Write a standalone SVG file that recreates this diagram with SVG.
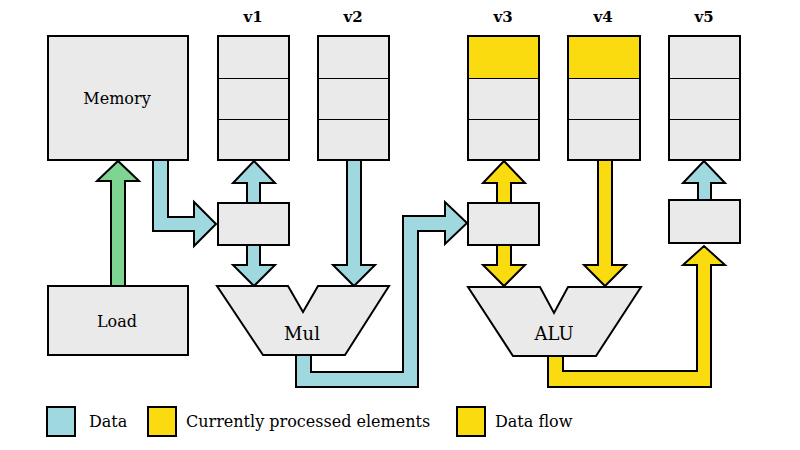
<svg xmlns="http://www.w3.org/2000/svg" width="800" height="450" viewBox="0 0 800 450">
<style>
.box{fill:#eaeaea;stroke:#000;stroke-width:2}
.div{stroke:#000;stroke-width:1}
.cur{fill:#fadb10}
.data{fill:#a0d8e0;stroke:#000;stroke-width:2;stroke-linejoin:miter}
.flow{fill:#fadb10;stroke:#000;stroke-width:2;stroke-linejoin:miter}
.load{fill:#7ed491;stroke:#000;stroke-width:2;stroke-linejoin:miter}
text{font-family:"DejaVu Serif","Liberation Serif",serif;fill:#000;text-anchor:middle;dominant-baseline:central}
.lbl{font-size:16px}
.big{font-size:18px}
.vl{font-size:15px;font-weight:bold}
.leg{font-size:16px;text-anchor:start}
</style>
<defs>
<g id="vec">
<rect class="box" x="0" y="0" width="71" height="124"/>
<line class="div" x1="0" y1="42.5" x2="71" y2="42.5"/>
<line class="div" x1="0" y1="83.5" x2="71" y2="83.5"/>
</g>
</defs>
<g id="connectors">
<polygon class="load" points="111,286 125,286 125,181 139,181 118,161 97,181 111,181"/>
<polygon class="data" points="153,160 168,160 168,217 194,217 194,202 216,224 194,246 194,231 153,231"/>
<polygon class="data" points="247,203 260,203 260,183 275,183 254,161 233,183 247,183"/>
<polygon class="data" points="247,245 260,245 260,265 275,265 254,286 233,265 247,265"/>
<polygon class="data" points="347,160 361,160 361,265 375,265 354,286 333,265 347,265"/>
<polygon class="data" points="296,355 296,387 418,387 418,231 445,231 445,244 467,223 445,202 445,216 403,216 403,372 311,372 311,355"/>
<polygon class="flow" points="497,203 511,203 511,183 525,183 504,161 483,183 497,183"/>
<polygon class="flow" points="497,245 511,245 511,265 525,265 504,286 483,265 497,265"/>
<polygon class="flow" points="598,160 612,160 612,265 626,265 605,286 584,265 598,265"/>
<polygon class="flow" points="548,356 548,387 711,387 711,265 725,265 704,246 683,265 697,265 697,371 563,371 563,356"/>
<polygon class="data" points="698,200 711,200 711,183 725,183 704,161 683,183 698,183"/>
</g>
<g id="memory">
<rect class="box" x="48" y="36" width="140" height="124"/>
<text class="lbl" x="117" y="98">Memory</text>
</g>
<g id="load">
<rect class="box" x="48" y="286" width="140" height="69"/>
<text class="lbl" x="117" y="321">Load</text>
</g>
<g id="v1">
<use href="#vec" x="218" y="36"/>
<text class="vl" x="253" y="17">v1</text>
</g>
<g id="v2">
<use href="#vec" x="318" y="36"/>
<text class="vl" x="353" y="17">v2</text>
</g>
<g id="v3">
<rect class="cur" x="468" y="36" width="71" height="42"/>
<rect x="468" y="78" width="71" height="82" fill="#eaeaea"/>
<rect x="468" y="36" width="71" height="124" fill="none" stroke="#000" stroke-width="2"/>
<line class="div" x1="468" y1="78.5" x2="539" y2="78.5"/>
<line class="div" x1="468" y1="119.5" x2="539" y2="119.5"/>
<text class="vl" x="503" y="17">v3</text>
</g>
<g id="v4">
<rect class="cur" x="568" y="36" width="72" height="42"/>
<rect x="568" y="78" width="72" height="82" fill="#eaeaea"/>
<rect x="568" y="36" width="72" height="124" fill="none" stroke="#000" stroke-width="2"/>
<line class="div" x1="568" y1="78.5" x2="640" y2="78.5"/>
<line class="div" x1="568" y1="119.5" x2="640" y2="119.5"/>
<text class="vl" x="603" y="17">v4</text>
</g>
<g id="v5">
<use href="#vec" x="669" y="36"/>
<text class="vl" x="704" y="17">v5</text>
</g>
<g id="reg1"><rect class="box" x="218" y="203" width="71" height="42"/></g>
<g id="reg3"><rect class="box" x="468" y="203" width="71" height="42"/></g>
<g id="reg5"><rect class="box" x="669" y="200" width="71" height="43"/></g>
<g id="mul">
<polygon class="box" points="217,286 288,286 303,312 318,286 389,286 345,355 263,355"/>
<text class="big" x="302" y="333">Mul</text>
</g>
<g id="alu">
<polygon class="box" points="468,287 540,287 554,313 568,287 641,287 596,356 513,356"/>
<text class="big" x="554" y="333">ALU</text>
</g>
<g id="legend">
<rect x="47" y="407" width="28" height="29" fill="#a0d8e0" stroke="#000" stroke-width="2"/>
<text class="leg" x="89" y="421">Data</text>
<rect x="148" y="407" width="28" height="29" fill="#fadb10" stroke="#000" stroke-width="2"/>
<text class="leg" x="186" y="421">Currently processed elements</text>
<rect x="457" y="407" width="28" height="29" fill="#fadb10" stroke="#000" stroke-width="2"/>
<text class="leg" x="495" y="421">Data flow</text>
</g>
</svg>
